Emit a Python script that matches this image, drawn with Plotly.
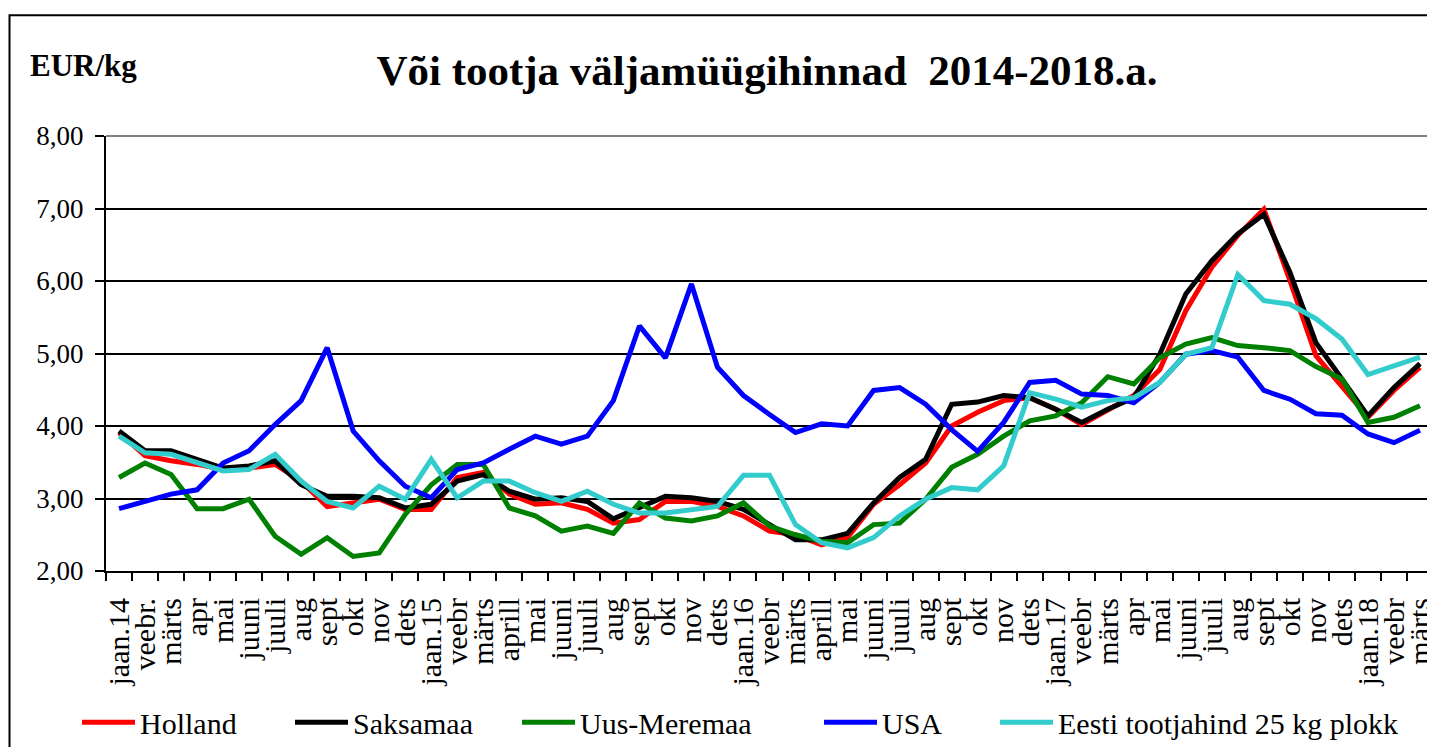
import plotly.graph_objects as go

months = ["jaan.14", "veebr.", "märts", "apr", "mai", "juuni", "juuli", "aug", "sept", "okt", "nov", "dets",
          "jaan.15", "veebr", "märts", "aprill", "mai", "juuni", "juuli", "aug", "sept", "okt", "nov", "dets",
          "jaan.16", "veebr", "märts", "aprill", "mai", "juuni", "juuli", "aug", "sept", "okt", "nov", "dets",
          "jaan.17", "veebr", "märts", "apr", "mai", "juuni", "juuli", "aug", "sept", "okt", "nov", "dets",
          "jaan.18", "veebr", "märts"]

holland = [3.91, 3.59, 3.52, 3.47, 3.40, 3.42, 3.47, 3.24, 2.89, 2.94, 2.99, 2.85,
           2.85, 3.29, 3.36, 3.06, 2.92, 2.94, 2.85, 2.66, 2.71, 2.96, 2.96, 2.89,
           2.76, 2.55, 2.50, 2.36, 2.46, 2.92, 3.19, 3.49, 4.00, 4.19, 4.35, 4.39,
           4.23, 4.02, 4.23, 4.42, 4.78, 5.59, 6.19, 6.63, 6.99, 6.01, 4.97, 4.55,
           4.12, 4.49, 4.81]

saksamaa = [3.93, 3.66, 3.66, 3.54, 3.42, 3.45, 3.52, 3.19, 3.03, 3.03, 3.01, 2.87,
            2.92, 3.24, 3.33, 3.10, 2.99, 3.01, 2.96, 2.72, 2.87, 3.03, 3.01, 2.96,
            2.85, 2.64, 2.43, 2.43, 2.52, 2.94, 3.29, 3.54, 4.30, 4.33, 4.42, 4.39,
            4.23, 4.05, 4.23, 4.39, 4.99, 5.82, 6.28, 6.65, 6.92, 6.12, 5.15, 4.65,
            4.14, 4.53, 4.86]

uus_meremaa = [3.29, 3.49, 3.33, 2.86, 2.86, 2.99, 2.48, 2.23, 2.46, 2.20, 2.25, 2.78,
               3.19, 3.47, 3.47, 2.87, 2.76, 2.55, 2.62, 2.52, 2.94, 2.73, 2.69, 2.76,
               2.94, 2.62, 2.50, 2.41, 2.39, 2.64, 2.66, 2.99, 3.43, 3.61, 3.86, 4.07,
               4.14, 4.32, 4.68, 4.58, 4.94, 5.13, 5.22, 5.11, 5.08, 5.04, 4.82, 4.65,
               4.05, 4.12, 4.28]

usa = [2.86, 2.96, 3.06, 3.12, 3.49, 3.66, 4.02, 4.35, 5.08, 3.93, 3.52, 3.17,
       3.01, 3.40, 3.49, 3.68, 3.86, 3.75, 3.86, 4.35, 5.38, 4.94, 5.96, 4.81,
       4.42, 4.16, 3.91, 4.03, 4.00, 4.49, 4.53, 4.30, 3.95, 3.65, 4.05, 4.60,
       4.63, 4.44, 4.42, 4.32, 4.60, 4.99, 5.04, 4.95, 4.49, 4.37, 4.17, 4.15,
       3.89, 3.77, 3.94]

eesti = [3.86, 3.63, 3.61, 3.49, 3.38, 3.40, 3.61, 3.24, 2.96, 2.87, 3.17, 2.99,
         3.54, 3.01, 3.24, 3.24, 3.08, 2.96, 3.10, 2.92, 2.80, 2.80, 2.85, 2.89,
         3.32, 3.32, 2.64, 2.39, 2.32, 2.46, 2.76, 2.99, 3.15, 3.12, 3.45, 4.46,
         4.37, 4.26, 4.35, 4.39, 4.60, 4.99, 5.08, 6.09, 5.73, 5.68, 5.48, 5.20,
         4.71, 4.83, 4.95]

series = [
    ("Holland", holland, "#FF0000", "legend"),
    ("Saksamaa", saksamaa, "#000000", "legend2"),
    ("Uus-Meremaa", uus_meremaa, "#008000", "legend3"),
    ("USA", usa, "#0000FF", "legend4"),
    ("Eesti tootjahind 25 kg plokk", eesti, "#33CCCC", "legend5"),
]

FONT = "Liberation Serif, Times New Roman, serif"
OFF = 8                      # page body margin
W, H = 1435 - OFF, 747 - OFF
L, T = 106 - OFF, 136 - OFF
PW = 1327
PH = 435.5
R = W - L - PW
B = H - T - PH

def px_x(px):                # px given in page coordinates
    return (px - OFF - L) / PW

def px_y(py):
    return (T + PH - (py - OFF)) / PH

xs = list(range(len(months)))

fig = go.Figure()
for name, vals, color, lg in series:
    fig.add_trace(go.Scatter(x=xs, y=vals, name=name, mode="lines",
                             line=dict(color=color, width=5), legend=lg))

ITEMW = 53
text_starts = [140, 353, 580, 882, 1058]
leg_common = dict(orientation="h", yanchor="middle", xanchor="left", y=px_y(723),
                  font=dict(family=FONT, size=30, color="black"),
                  bgcolor="rgba(0,0,0,0)", itemwidth=ITEMW)
legends = {}
for i, tx in enumerate(text_starts):
    key = "legend" if i == 0 else f"legend{i+1}"
    legends[key] = dict(leg_common, x=px_x(tx - ITEMW - 10))

fig.update_layout(
    width=W, height=H,
    margin=dict(l=L, r=R, t=T, b=B, autoexpand=False),
    paper_bgcolor="white", plot_bgcolor="white",
    separators=", ",
    font=dict(family=FONT, color="black"),
    title=dict(text="Või tootja väljamüügihinnad \u00a02014-2018.a.",
               font=dict(family=FONT, size=43, color="black", weight="bold"),
               x=(767 - OFF) / W, xanchor="center", y=1 - (70 - OFF) / H, yanchor="middle"),
    showlegend=True,
    **legends,
)

fig.update_xaxes(
    range=[-0.5, len(months) - 0.5],
    tickmode="array", tickvals=xs, ticktext=months,
    tickangle=-90, tickfont=dict(family=FONT, size=30, color="black"),
    ticks="outside", ticklen=8, tickcolor="rgba(0,0,0,0)",
    ticklabeloverflow="allow",
    showgrid=False, zeroline=False,
    showline=True, linecolor="black", linewidth=2,
    minor=dict(tickmode="array", tickvals=[i - 0.5 for i in range(len(months) + 1)],
               ticks="outside", ticklen=8, tickwidth=1.5, tickcolor="black", showgrid=False),
    ticklabelstandoff=5,
)
fig.update_yaxes(
    range=[2, 8], dtick=1, tick0=2, tickformat=".2f",
    tickfont=dict(family=FONT, size=27, color="black"),
    ticks="outside", ticklen=9, tickwidth=1.5, tickcolor="black",
    showgrid=True, gridcolor="black", gridwidth=1.5,
    zeroline=False, showline=True, linecolor="black", linewidth=2,
    ticklabelstandoff=6,
)

fig.add_annotation(text="<b>EUR/kg</b>", xref="paper", yref="paper",
                   x=px_x(83), y=px_y(65), xanchor="center", yanchor="middle",
                   showarrow=False, font=dict(family=FONT, size=31, color="black"))

# plot-area top and right border (gray) and outer chart frame
fig.add_shape(type="line", xref="paper", yref="paper", x0=0, x1=1, y0=1, y1=1,
              line=dict(color="#808080", width=2))
fig.add_shape(type="line", xref="paper", yref="paper", x0=1, x1=1, y0=0, y1=1,
              line=dict(color="#808080", width=2))
fig.add_shape(type="rect", xref="paper", yref="paper",
              x0=px_x(9.5), x1=px_x(1445), y0=px_y(760), y1=px_y(15),
              line=dict(color="black", width=2), fillcolor="rgba(0,0,0,0)", layer="below")

fig.write_html("out.html")
